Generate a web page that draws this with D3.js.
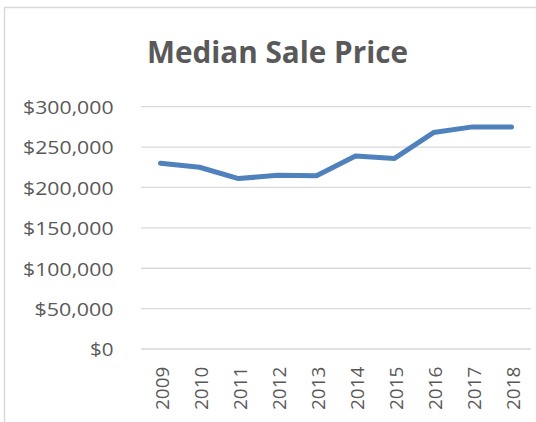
<!DOCTYPE html>
<html><head><meta charset="utf-8">
<script src="https://cdn.jsdelivr.net/npm/d3@7"></script>
<style>html,body{margin:0;padding:0;background:#fff;}svg{display:block;}</style>
</head><body>
<svg id="chart" width="536" height="422"></svg>
<script>
const years = ["2009","2010","2011","2012","2013","2014","2015","2016","2017","2018"];
const medianPrice = [230000,225000,211000,215000,214500,239000,236000,268000,275000,275000];
const yTicks = [0,50000,100000,150000,200000,250000,300000];
const title = "Median Sale Price";

const svg = d3.select("#chart");
const font = "'Open Sans', 'Noto Sans', sans-serif";
const textColor = "#595959";

// chart border
svg.append("rect").attr("x",4.5).attr("y",7.5).attr("width",600).attr("height",600)
  .attr("fill","#fff").attr("stroke","#d9d9d9").attr("stroke-width",1.5);

const x = d3.scaleBand().domain(years).range([141,531]).padding(0);
const y = d3.scaleLinear().domain([0,300000]).range([349,106.7]);

// gridlines
svg.append("g").selectAll("line").data(yTicks).join("line")
  .attr("x1",141).attr("x2",531)
  .attr("y1",d=>y(d)).attr("y2",d=>y(d))
  .attr("stroke","#d9d9d9").attr("stroke-width",1.3);

// y axis labels
const fmt = d3.format("$,");
const yAxis = d3.axisLeft(y).tickValues(yTicks).tickFormat(fmt).tickSize(0).tickPadding(0);
const gy = svg.append("g").attr("transform","translate(113.5,0)").call(yAxis);
gy.select(".domain").remove();
gy.selectAll("text").attr("font-family",font).attr("font-size",18.6).attr("fill",textColor)
  .attr("dy",null).attr("y",6.8)
  .each(function(d){ const s=fmt(d); d3.select(this).attr("textLength", s.length===2?23.5: (s.length*11.3)).attr("lengthAdjust","spacingAndGlyphs"); });

// x axis labels
const xAxis = d3.axisBottom(x).tickSize(0).tickPadding(0);
const gx = svg.append("g").call(xAxis);
gx.select(".domain").remove();
gx.selectAll(".tick").attr("transform",d=>`translate(${x(d)+x.bandwidth()/2+8.5},366.7)`);
gx.selectAll("text").attr("font-family",font).attr("font-size",19).attr("fill",textColor)
  .attr("y",0).attr("dy",null).attr("x",0)
  .attr("transform","rotate(-90)").attr("text-anchor","end")
  .attr("textLength",43.3).attr("lengthAdjust","spacingAndGlyphs");

// line
const line = d3.line().x((d,i)=>x(years[i])+x.bandwidth()/2).y(d=>y(d));
svg.append("path").datum(medianPrice).attr("d",line)
  .attr("fill","none").attr("stroke","#4f81bd").attr("stroke-width",5)
  .attr("stroke-linejoin","round").attr("stroke-linecap","round");

// title
svg.append("text").attr("x",277.5).attr("y",63.3).attr("text-anchor","middle")
  .attr("font-family",font).attr("font-weight","bold").attr("font-size",30)
  .attr("fill",textColor).attr("textLength",261).attr("lengthAdjust","spacingAndGlyphs")
  .text(title);
</script>
</body></html>
